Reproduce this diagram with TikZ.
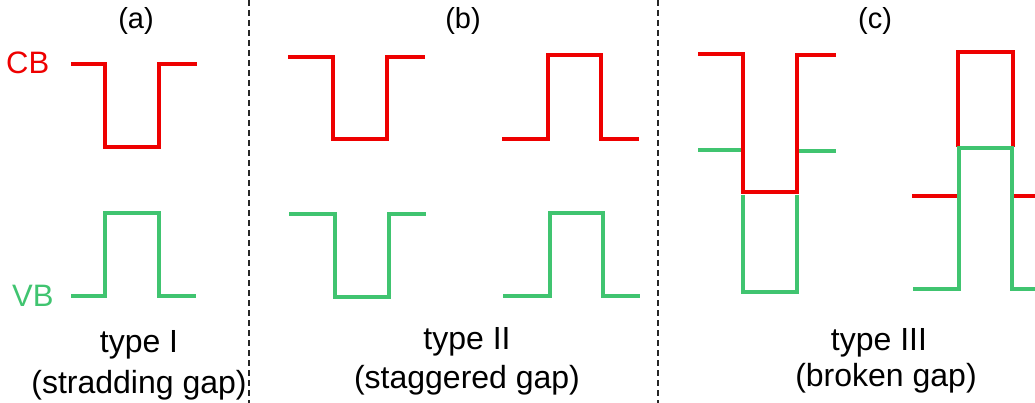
\documentclass[tikz,border=0pt]{standalone}
\usepackage{fontspec}
\setmainfont{Liberation Sans}
\definecolor{cbred}{RGB}{238,0,0}
\definecolor{vbgreen}{RGB}{64,196,112}
\begin{document}
\begin{tikzpicture}[x=1pt,y=-1pt,
  cb/.style={draw=cbred,line width=4pt,line join=miter},
  vb/.style={draw=vbgreen,line width=4pt,line join=miter},
  sep/.style={draw=black!85,line width=1.2pt,dash pattern=on 6pt off 4pt},
  lbl/.style={font=\fontsize{29}{33}\selectfont,inner sep=0pt},
  captext/.style={font=\fontsize{32}{36}\selectfont,inner sep=0pt,anchor=base},
  band/.style={font=\fontsize{31}{35}\selectfont,inner sep=0pt,anchor=base west}]
\useasboundingbox (0,0) rectangle (1035,403);
% separators
\draw[sep] (249,0) -- (249,403);
\draw[sep] (658,0) -- (658,403);
% panel labels
\node[lbl] (la) at (136,21) {(a)};
\node[lbl] (lb) at (463,21) {(b)};
\node[lbl] (lc) at (875,21) {(c)};
% band labels
\node[band,text=cbred] (cbl) at (6,74) {CB};
\node[band,text=vbgreen] (vbl) at (12,306) {VB};
% (a) type I
\draw[cb] (71,64) -- (105,64) -- (105,147) -- (159,147) -- (159,64) -- (197,64);
\draw[vb] (71,296) -- (105,296) -- (105,213) -- (159,213) -- (159,296) -- (196,296);
% (b) type II
\draw[cb] (288,57) -- (333,57) -- (333,139) -- (387,139) -- (387,57) -- (425,57);
\draw[cb] (502,139) -- (548,139) -- (548,55) -- (601,55) -- (601,139) -- (639,139);
\draw[vb] (289,214) -- (335,214) -- (335,297) -- (389,297) -- (389,214) -- (426,214);
\draw[vb] (503,296) -- (550,296) -- (550,213) -- (603,213) -- (603,296) -- (640,296);
% (c) type III
\draw[vb] (698,150) -- (745,150);
\draw[vb] (798,151) -- (836,151);
\draw[vb] (743,195) -- (743,292) -- (797,292) -- (797,195);
\draw[cb] (698,54) -- (743,54) -- (743,192) -- (797,192) -- (797,55) -- (836,55);
\draw[cb] (912,196) -- (957,196);
\draw[cb] (1014,196) -- (1035,196);
\draw[cb] (958,147) -- (958,52) -- (1013,52) -- (1013,147);
\draw[vb] (913,289) -- (959,289) -- (959,148) -- (1012,148) -- (1012,289) -- (1035,289);
% captions
\node[captext] (a1) at (139,352) {type I};
\node[captext] (a2) at (139,393) {(stradding gap)};
\node[captext] (b1) at (467,349) {type II};
\node[captext] (b2) at (467,388) {(staggered gap)};
\node[captext] (c1) at (879,350) {type III};
\node[captext] (c2) at (886,386) {(broken gap)};
\end{tikzpicture}
\end{document}
